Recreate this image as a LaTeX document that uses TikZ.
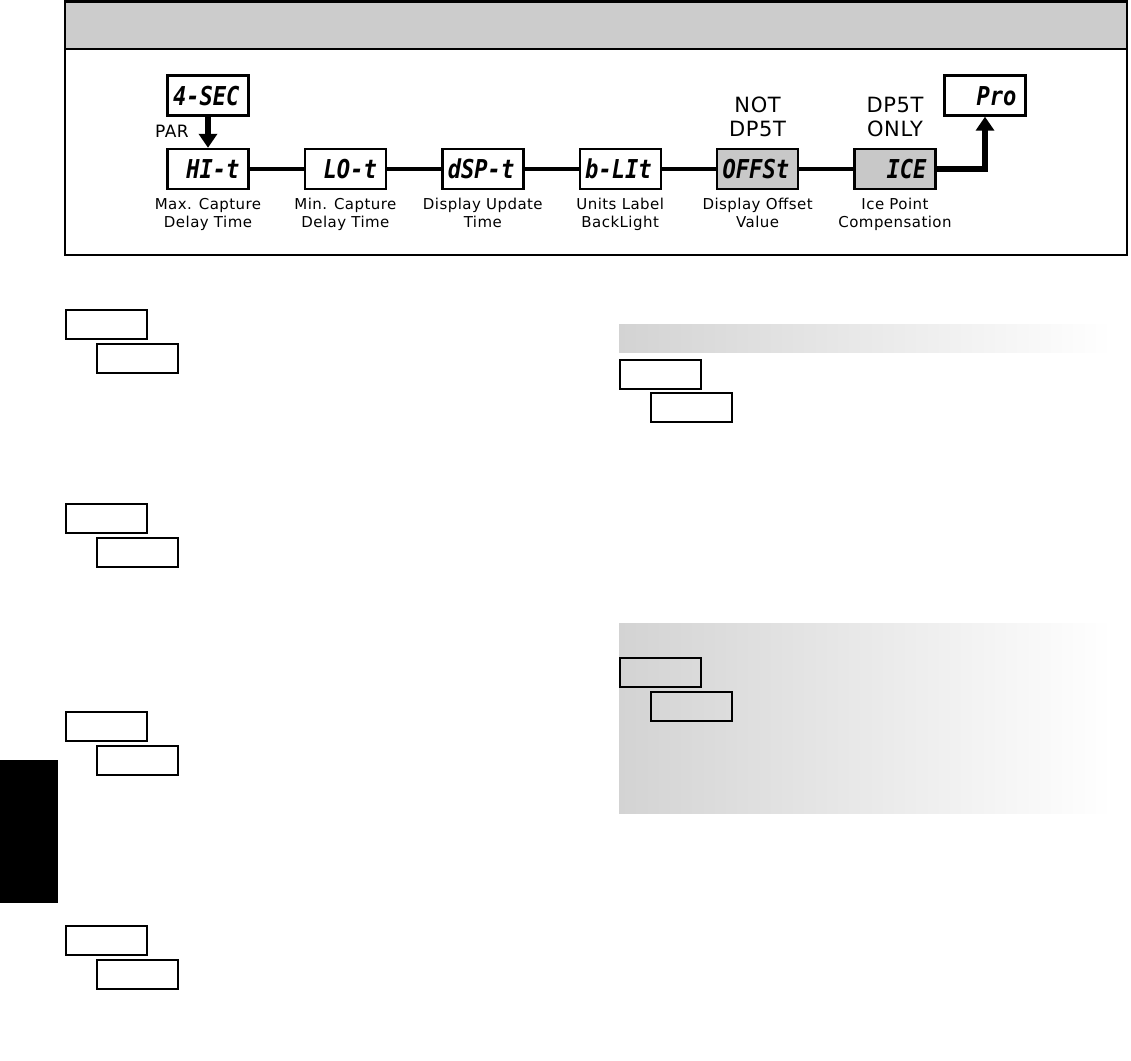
\documentclass[tikz,border=0pt]{standalone}
\usepackage{fontspec}
\usetikzlibrary{calc, positioning}
\usetikzlibrary{arrows.meta}

\definecolor{headgray}{HTML}{CCCCCC}
\definecolor{dispgray}{HTML}{C8C8C8}
\definecolor{bandgray}{HTML}{D3D3D3}

\newfontfamily\lblfont[LetterSpace=3]{DejaVu Sans}
\newfontfamily\segfont[FakeStretch=0.85]{DejaVu Sans Mono}
\newcommand{\segtxt}[1]{\mbox{#1\kern3.5pt}}

\tikzset{
  disp/.style={draw, line width=2.4pt, fill=white, text width=70pt,
    align=right, inner xsep=5.5pt, inner ysep=0pt, minimum height=40pt,
    text height=19pt, text depth=0pt,
    font=\segfont\bfseries\itshape\fontsize{26pt}{26pt}\selectfont},
  dispdark/.style={disp, fill=dispgray},
  lbl/.style={font=\lblfont\fontsize{15pt}{18pt}\selectfont,
    align=center, inner sep=0pt},
  toplbl/.style={font=\lblfont\fontsize{21pt}{24pt}\selectfont,
    align=center, inner sep=0pt},
  chain/.style={line width=4pt},
  parrow/.style={line width=6pt, -{Triangle[width=18pt,length=14pt]}},
  keybox/.style={draw, line width=2pt, minimum width=81pt,
    minimum height=29pt, inner sep=0pt},
}

\begin{document}
\begin{tikzpicture}[x=1pt,y=-1pt]
\useasboundingbox (0,0) rectangle (1131,1060);

% Frame and header of the menu
\fill[headgray] (65,1) rectangle (1127,49);
\draw[line width=2.6pt] (65,1.3) rectangle (1127,255);
\draw[line width=2.6pt] (65,49) -- (1127,49);

% Display boxes
\node[disp] (sec) at (208,95.5) {\segtxt{4-SEC}};
\node[disp] (hit) at (208,169) {\segtxt{HI-t}};
\node[disp, right=54pt of hit] (lot) {\segtxt{LO-t}};
\node[disp, right=54pt of lot] (dspt) {\segtxt{dSP-t}};
\node[disp, right=54pt of dspt] (blit) {\segtxt{b-LIt}};
\node[dispdark, right=54pt of blit] (offst) {\segtxt{OFFSt}};
\node[dispdark, right=54pt of offst] (ice) {\segtxt{ICE}};
\node[disp] (pro) at (985,95.5) {\segtxt{Pro}};

% Connectors
\draw[parrow] (sec) -- (hit);
\draw[chain] (hit) -- (lot);
\draw[chain] (lot) -- (dspt);
\draw[chain] (dspt) -- (blit);
\draw[chain] (blit) -- (offst);
\draw[chain] (offst) -- (ice);
\draw[parrow] (ice) -| (pro);
\node[lbl, font=\lblfont\fontsize{17pt}{17pt}\selectfont,
  anchor=base east] (par) at (189,137) {PAR};

% Captions
\node[lbl, below=8pt of hit] (hitlbl) {Max. Capture\\Delay Time};
\node[lbl, below=8pt of lot] (lotlbl) {Min. Capture\\Delay Time};
\node[lbl, below=8pt of dspt] (dsptlbl) {Display Update\\Time};
\node[lbl, below=8pt of blit] (blitlbl) {Units Label\\BackLight};
\node[lbl, below=8pt of offst] (offstlbl) {Display Offset\\Value};
\node[lbl, below=8pt of ice] (icelbl) {Ice Point\\Compensation};
\node[toplbl, above=11pt of offst] (offsttop) {NOT\\DP5T};
\node[toplbl, above=11pt of ice] (icetop) {DP5T\\ONLY};

% Shaded bands and side tab
\shade[left color=bandgray, right color=white] (619,324) rectangle (1112,352);
\shade[left color=bandgray, right color=white] (619,623) rectangle (1112,813);
\fill[black] (0,760) rectangle (58,903);

% Parameter boxes, left column
\node[keybox] (hiA) at (106.5,324.5) {};
\node[keybox] (hiB) at ($(hiA)+(31,34)$) {};
\node[keybox] (loA) at (106.5,518.5) {};
\node[keybox] (loB) at ($(loA)+(31,34)$) {};
\node[keybox] (dspA) at (106.5,726.5) {};
\node[keybox] (dspB) at ($(dspA)+(31,34)$) {};
\node[keybox] (blitA) at (106.5,940.5) {};
\node[keybox] (blitB) at ($(blitA)+(31,34)$) {};

% Parameter boxes, right column
\node[keybox] (offA) at (660.5,374) {};
\node[keybox] (offB) at ($(offA)+(31,33.5)$) {};
\node[keybox] (iceA) at (660.5,672.5) {};
\node[keybox] (iceB) at ($(iceA)+(31,33.5)$) {};
\end{tikzpicture}
\end{document}
